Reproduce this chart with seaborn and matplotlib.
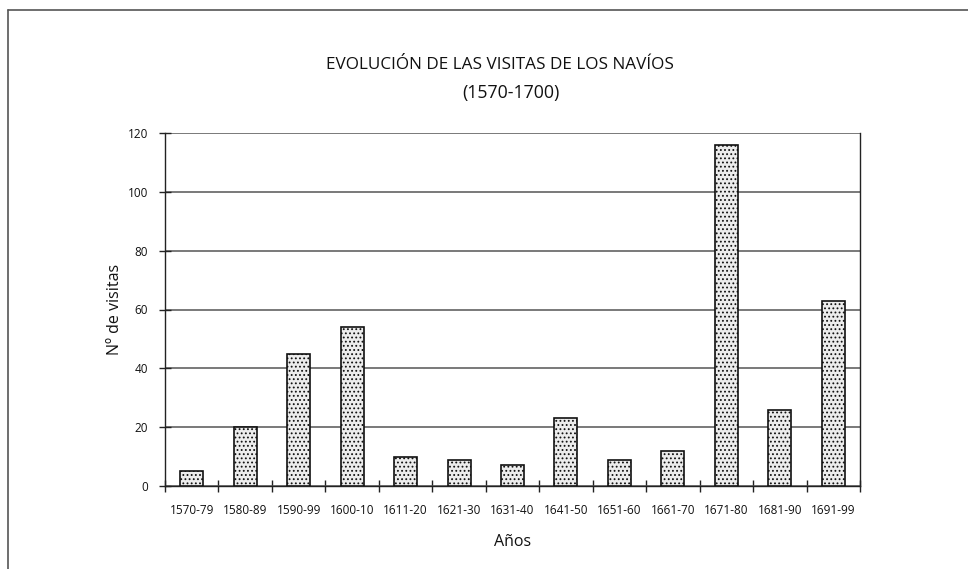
import numpy as np
import pandas as pd
from matplotlib import pyplot as plt
from matplotlib.lines import Line2D
import seaborn as sns

# Datos
periodos = ['1570-79', '1580-89', '1590-99', '1600-10', '1611-20', '1621-30', '1631-40',
            '1641-50', '1651-60', '1661-70', '1671-80', '1681-90', '1691-99']
visitas = [5, 20, 45, 54, 10, 9, 7, 23, 9, 12, 116, 26, 63]
yticks = [0, 20, 40, 60, 80, 100, 120]

df = pd.DataFrame({'periodo': periodos, 'visitas': visitas})

sns.set_theme(style="white")
plt.rcParams['font.family'] = ['Open Sans', 'DejaVu Sans']
plt.rcParams['hatch.color'] = '#b8b8b8'
plt.rcParams['hatch.linewidth'] = 0.8

fig = plt.figure(figsize=(9.68, 5.69), dpi=100)
ax = fig.add_axes([165/968, 83/569, 695/968, 353/569])

# Barras
sns.barplot(data=df, x='periodo', y='visitas', ax=ax, color='#ececec',
            edgecolor='#111111', linewidth=1.2, width=0.43, saturation=1)
for bar in ax.patches:
    bar.set_hatch('....')
    bar.set_zorder(3)

# Ejes y rejilla
ax.set_ylim(0, 120)
ax.set_xlim(-0.5, len(periodos) - 0.5)
ax.set_yticks(yticks)
ax.yaxis.grid(True, color='#555555', linewidth=1.1)
ax.set_axisbelow(True)
for side in ['left', 'bottom', 'right']:
    ax.spines[side].set_visible(True)
    ax.spines[side].set_color('#222222')
    ax.spines[side].set_linewidth(1.0)
ax.spines['top'].set_visible(False)

ax.set_xticks(np.arange(-0.5, len(periodos)), minor=True)
ax.tick_params(axis='x', which='major', length=0, pad=13, labelsize=8.5, labelcolor='#111111')
ax.tick_params(axis='x', which='minor', direction='inout', length=8, width=1, color='#222222', bottom=True)
ax.tick_params(axis='y', direction='inout', length=8, width=1, color='#222222', left=True,
               labelsize=8.5, labelcolor='#111111', pad=8)
for lab in ax.get_xticklabels():
    lab.set_family(['Liberation Sans Narrow', 'Open Sans', 'DejaVu Sans'])

# Textos
ax.set_xlabel('Años', fontsize=11.5, color='#111111')
ax.set_ylabel('Nº de visitas', fontsize=11.5, color='#111111')
ax.xaxis.set_label_coords(0.5, -0.135)
ax.yaxis.set_label_coords(-0.061, 0.5)
fig.text(0.516, 0.885, 'EVOLUCIÓN DE LAS VISITAS DE LOS NAVÍOS', ha='center', va='center',
         fontsize=12.3, color='#111111')
fig.text(0.528, 0.836, '(1570-1700)', ha='center', va='center', fontsize=12.8, color='#111111')

# Marco exterior (solo izquierda y arriba)
fig.add_artist(Line2D([8/968, 8/968], [0, 1 - 10/569], transform=fig.transFigure,
                      color='#555555', linewidth=1.2))
fig.add_artist(Line2D([8/968, 1], [1 - 10/569, 1 - 10/569], transform=fig.transFigure,
                      color='#555555', linewidth=1.2))

plt.savefig('out.png', dpi=100)
plt.close()
